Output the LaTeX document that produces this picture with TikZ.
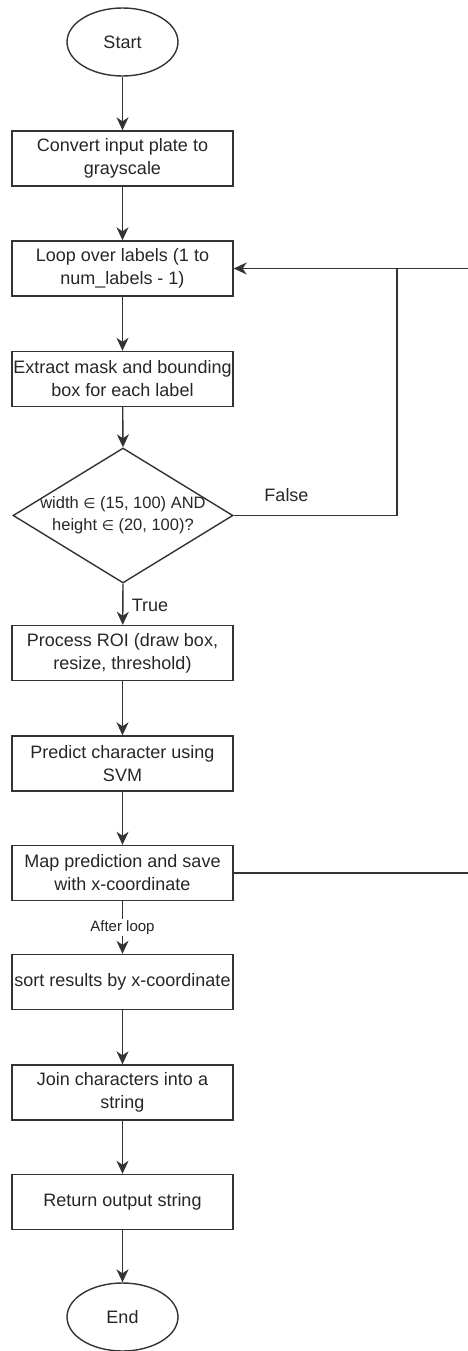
\documentclass[tikz,border=0pt]{standalone}
\usepackage{fontspec}
\setmainfont{Liberation Sans}
\newfontfamily\symf{DejaVu Sans}
\usetikzlibrary{shapes.geometric,arrows.meta}
\begin{document}
\begin{tikzpicture}[x=1pt,y=1pt,
  every node/.style={text=black!85},
  stepbox/.style={draw=black!80, line width=1.4pt, minimum width=221pt, minimum height=55pt,
    inner sep=0pt, align=center, font=\fontsize{18}{23}\selectfont},
  term/.style={draw=black!80, line width=1.4pt, ellipse, minimum width=111pt, minimum height=68pt,
    inner sep=0pt, font=\fontsize{18}{23}\selectfont},
  decision/.style={draw=black!80, line width=1.4pt, diamond, minimum width=220pt, minimum height=135pt,
    inner sep=0pt},
  flow/.style={draw=black!80, line width=1.4pt,
    -{Stealth[length=13pt,width=12pt,inset=4pt]}},
  plain/.style={draw=black!80, line width=1.4pt},
  lbl/.style={font=\fontsize{18}{23}\selectfont, inner sep=1pt},
  small/.style={font=\fontsize{15}{18}\selectfont, fill=white, inner sep=1.5pt}
]
\useasboundingbox (0,0) rectangle (468,-1351);

% main column
\node[term] (start) at (122.5,-42) {Start};
\node[stepbox] (gray) at (122.5,-158.5) {Convert input plate to\\grayscale};
\node[stepbox] (loop) at (122.5,-268.5) {Loop over labels (1 to\\num\_labels - 1)};
\node[stepbox] (mask) at (122.5,-379) {Extract mask and bounding\\box for each label};
\node[decision, label={[name=cond, font=\fontsize{16.5}{22}\selectfont, align=center]center:width {\symf\scalebox{0.85}{∈}} (15, 100) AND\\height {\symf\scalebox{0.85}{∈}} (20, 100)?}] (dec) at (123,-515.5) {};
\node[stepbox] (roi) at (122.5,-653) {Process ROI (draw box,\\resize, threshold)};
\node[stepbox] (svm) at (122.5,-763.5) {Predict character using\\SVM};
\node[stepbox] (map) at (122.5,-873) {Map prediction and save\\with x-coordinate};
\node[stepbox] (sort) at (122.5,-982) {sort results by x-coordinate};
\node[stepbox] (join) at (122.5,-1092.5) {Join characters into a\\string};
\node[stepbox] (ret) at (122.5,-1202) {Return output string};
\node[term] (end) at (122.5,-1317) {End};

% straight connectors
\draw[flow] (start) -- (gray);
\draw[flow] (gray) -- (loop);
\draw[flow] (loop) -- (mask);
\draw[flow] (mask) -- (dec.north);
\draw[flow] (dec.south) -- (roi);
\draw[flow] (roi) -- (svm);
\draw[flow] (svm) -- (map);
\draw[flow] (map) -- node[small] (after) {After loop} (sort);
\draw[flow] (sort) -- (join);
\draw[flow] (join) -- (ret);
\draw[flow] (ret) -- (end);

% loop back-edges
\coordinate (merge) at (397,-268.5);
\coordinate (back) at (480,-873);
\draw[flow] (map.east) -- (back) |- (loop.east);
\draw[plain] (dec.east) -| (merge);

% branch labels
\node[lbl] (false) at (286.5,-495) {False};
\node[lbl] (true) at (150,-605) {True};
\end{tikzpicture}
\end{document}
